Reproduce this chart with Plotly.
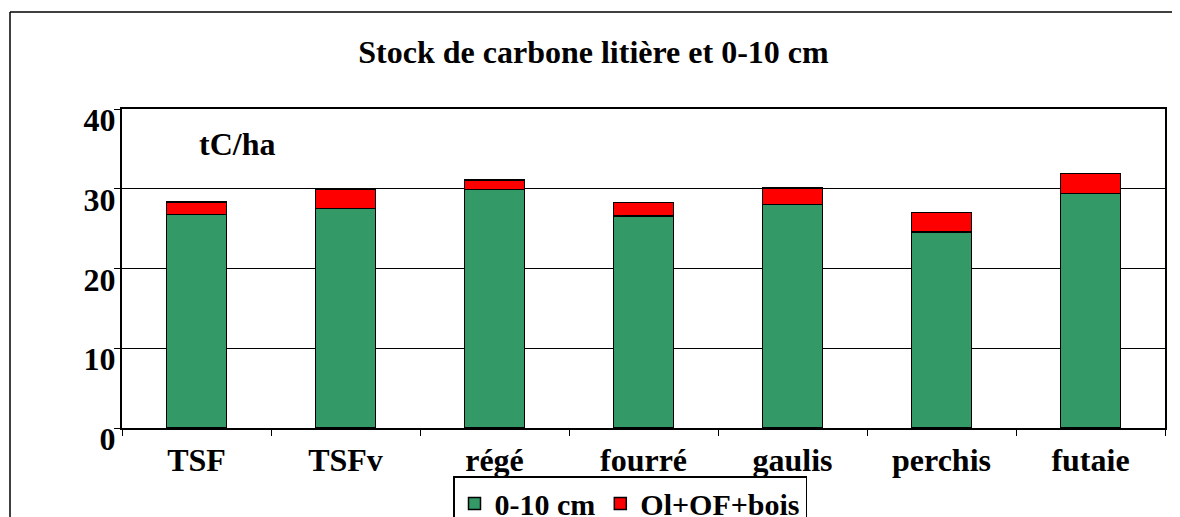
import plotly.graph_objects as go

categories = ["TSF", "TSFv", "régé", "fourré", "gaulis", "perchis", "futaie"]
soil_0_10 = [26.8, 27.5, 29.9, 26.6, 28.0, 24.6, 29.4]
litter_wood = [1.55, 2.45, 1.2, 1.7, 2.1, 2.4, 2.5]
y_ticks = [0, 10, 20, 30, 40]

FONT = "Liberation Serif"

fig = go.Figure()
fig.add_trace(go.Bar(x=categories, y=soil_0_10, name="<b>0-10 cm</b>",
                     marker=dict(color="#339966", line=dict(color="black", width=1.5))))
fig.add_trace(go.Bar(x=categories, y=litter_wood, name="<b>Ol+OF+bois</b>",
                     marker=dict(color="#FF0000", line=dict(color="black", width=1.5))))

# page body adds an 8px offset; positions below are given in screen pixels
OFF = 8
SCREEN_W, SCREEN_H = 1180, 517
W, H = SCREEN_W - OFF, SCREEN_H - OFF
L, R, T, B = 122 - OFF, W - (1165 - OFF), 109 - OFF, H - (428 - OFF)
pw, ph = W - L - R, H - T - B

def px_x(p):
    return (p - OFF - L) / pw

def px_y(p):
    return (H - B - (p - OFF)) / ph

fig.update_layout(
    width=W, height=H,
    barmode="stack", bargap=0.6,
    margin=dict(l=L, r=R, t=T, b=B, autoexpand=False),
    paper_bgcolor="white", plot_bgcolor="white",
    font=dict(family=FONT, size=32, color="black"),
    title=dict(text="<b>Stock de carbone litière et 0-10 cm</b>",
               x=(593.5 - OFF) / W, xanchor="center", xref="container",
               y=1 - (52 - OFF) / H, yanchor="middle",
               font=dict(family=FONT, size=32, color="black")),
    showlegend=True,
    legend=dict(orientation="h", x=px_x(453), xanchor="left",
                y=px_y(476), yanchor="top",
                bordercolor="black", borderwidth=1.5, bgcolor="white",
                font=dict(family=FONT, size=30, color="black"),
                traceorder="normal", itemwidth=30),
    xaxis=dict(showline=True, linecolor="black", linewidth=1.5, mirror=True,
               ticks="outside", tickson="boundaries", ticklen=6, tickcolor="black",
               tickfont=dict(family=FONT, size=32, color="black"),
               ticklabelstandoff=3, showgrid=False, automargin=False),
    yaxis=dict(range=[0, 40], tickvals=y_ticks,
               showline=True, linecolor="black", linewidth=2, mirror=True,
               ticks="outside", ticklen=6, tickcolor="black",
               showgrid=True, gridcolor="black", gridwidth=1,
               tickfont=dict(family=FONT, size=32, color="black"),
               ticklabelshift=11, ticklabelstandoff=-8,
               zeroline=False, automargin=False),
)

fig.update_xaxes(tickvals=categories, ticktext=[f"<b>{c}</b>" for c in categories])
fig.update_yaxes(ticktext=[f"<b>{v}</b>" for v in y_ticks])

fig.add_annotation(text="<b>tC/ha</b>", xref="paper", yref="paper",
                   x=px_x(237), y=px_y(144), xanchor="center", yanchor="middle",
                   showarrow=False, font=dict(family=FONT, size=32, color="black"))

# outer chart-area border: only its top and left edges fall inside the page
fig.add_shape(type="line", xref="paper", yref="paper",
              x0=px_x(10), x1=px_x(1180), y0=px_y(12), y1=px_y(12),
              line=dict(color="black", width=1.5), layer="below")
fig.add_shape(type="line", xref="paper", yref="paper",
              x0=px_x(10), x1=px_x(10), y0=px_y(12), y1=px_y(517),
              line=dict(color="black", width=1.5), layer="below")

fig.write_html("out.html")
